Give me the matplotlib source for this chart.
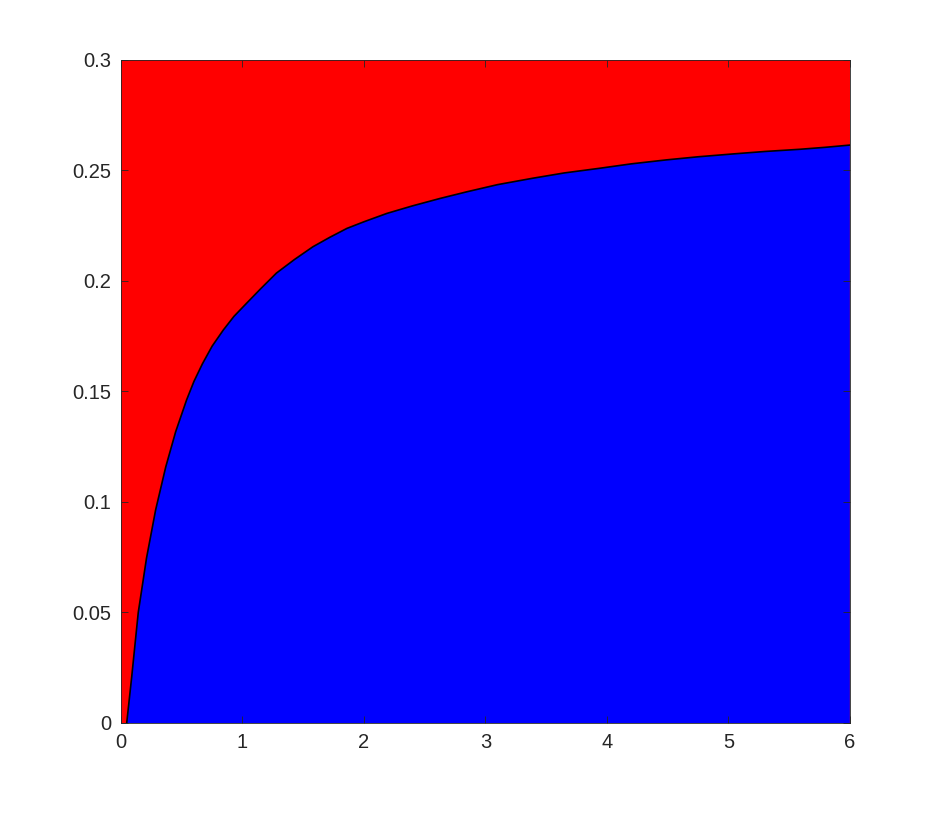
import numpy as np
import matplotlib
matplotlib.use("Agg")
import matplotlib.pyplot as plt

# boundary between the two regions
bx = [0.047, 0.088, 0.142, 0.21, 0.285, 0.368, 0.45, 0.54, 0.60, 0.67, 0.75, 0.842, 0.93,
      1.035, 1.15, 1.28, 1.43, 1.58, 1.72, 1.86, 2.0, 2.19, 2.40, 2.63, 2.85, 3.1,
      3.39, 3.65, 3.94, 4.2, 4.49, 4.75, 5.04, 5.3, 5.59, 5.8, 6.0]
by = [0.0, 0.0208, 0.05, 0.0746, 0.0964, 0.1158, 0.1318, 0.1462, 0.1545, 0.1625, 0.1705,
      0.1778, 0.1840, 0.190, 0.1965, 0.2036, 0.2098, 0.2155, 0.2198, 0.2238, 0.2268,
      0.2306, 0.2340, 0.2374, 0.2404, 0.2436, 0.2465, 0.2489, 0.251, 0.2530, 0.2548,
      0.2562, 0.2575, 0.2586, 0.2596, 0.2605, 0.2615]

xticks = [0, 1, 2, 3, 4, 5, 6]
yticks = [0, 0.05, 0.1, 0.15, 0.2, 0.25, 0.3]
ylabels = ['0', '0.05', '0.1', '0.15', '0.2', '0.25', '0.3']

plt.rcParams['font.family'] = ['Liberation Sans', 'DejaVu Sans']

fig = plt.figure(figsize=(9.38, 8.14), dpi=100)
ax = fig.add_axes([0.129, 0.1118, 0.777, 0.8145])

# red everywhere, blue under the curve
ax.fill_between([0, 6], [0.3, 0.3], 0, color='#ff0000', linewidth=0)
bx_full = [bx[0]] + bx + [6.0]
by_full = [0.0] + by + [0.0]
ax.fill(bx_full, by_full, color='#0000ff', linewidth=0)
ax.plot(bx, by, color='black', linewidth=1.2)

ax.set_xlim(0, 6)
ax.set_ylim(0, 0.3)
ax.set_xticks(xticks)
ax.set_xticklabels([str(t) for t in xticks])
ax.set_yticks(yticks)
ax.set_yticklabels(ylabels)
ax.tick_params(direction='in', length=5, width=0.6, colors='#262626',
               labelsize=14.5, top=True, right=True, pad=7)
for s in ax.spines.values():
    s.set_color('#262626')
    s.set_linewidth(0.6)

fig.savefig('out.png', dpi=100)
